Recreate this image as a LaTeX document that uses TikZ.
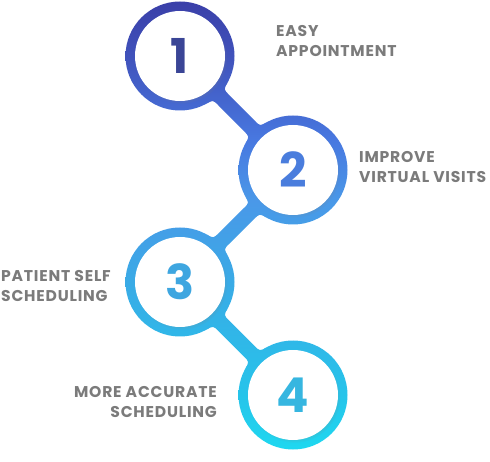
\documentclass[tikz,border=0pt]{standalone}
\usepackage{fontspec}
\setmainfont{Poppins}
\newfontfamily\labelfont{Poppins}[LetterSpace=5]
\usetikzlibrary{calc,shadows}
\definecolor{gradA}{HTML}{3A3FA8}
\definecolor{gradB}{HTML}{4052BB}
\definecolor{gradC}{HTML}{4878E0}
\definecolor{gradD}{HTML}{4A98E8}
\definecolor{gradE}{HTML}{3AAAE6}
\definecolor{gradF}{HTML}{26C4EA}
\definecolor{gradG}{HTML}{1ED8F0}
\definecolor{labelGray}{HTML}{7B7B7B}
\pgfdeclareverticalshading{flowgrad}{100bp}{color(0bp)=(gradG); color(25bp)=(gradG);
  color(26.3bp)=(gradG); color(32.25bp)=(gradF); color(44.7bp)=(gradE); color(53.35bp)=(gradD);
  color(59.85bp)=(gradC); color(68.94bp)=(gradB); color(75bp)=(gradA); color(100bp)=(gradA)}
\tikzset{
  ring/.style={circle, minimum size=109pt, inner sep=0pt},
  disc/.style={circle, fill=white, minimum size=90pt, inner sep=0pt,
    circular drop shadow={shadow xshift=1.5pt, shadow yshift=-2pt, opacity=0.3, shadow scale=1.02}},
  num/.style={font=\fontsize{48}{48}\selectfont\bfseries, inner sep=0pt},
  lbl/.style={font=\labelfont\fontsize{15.6}{20}\selectfont\bfseries, text=labelGray, inner sep=0pt},
  grad/.style={shading=flowgrad},
}

\begin{document}
\begin{tikzpicture}[x=1pt,y=-1pt]
\useasboundingbox (0,0) rectangle (490,462);

%Shape: Circle anchors
\node[ring] (s1) at (180,56) {};
\node[ring] (s2) at (293,170) {};
\node[ring] (s3) at (180,282) {};
\node[ring] (s4) at (293,395) {};

%Shape: bands between the circles
\foreach \a/\b in {s1/s2,s2/s3,s3/s4}{
  \begin{scope}
    \clip ($(\a.center)!54.5pt!15.7:(\b.center)$) .. controls ($(\a.center)!55pt!7.8:(\b.center)$) .. ($(\a.center)!62.5pt!6.9:(\b.center)$)
      -- ($(\b.center)!62.5pt!-6.9:(\a.center)$) .. controls ($(\b.center)!55pt!-7.8:(\a.center)$) .. ($(\b.center)!54.5pt!-15.7:(\a.center)$)
      -- ($(\b.center)!54.5pt!15.7:(\a.center)$) .. controls ($(\b.center)!55pt!7.8:(\a.center)$) .. ($(\b.center)!62.5pt!6.9:(\a.center)$)
      -- ($(\a.center)!62.5pt!-6.9:(\b.center)$) .. controls ($(\a.center)!55pt!-7.8:(\b.center)$) .. ($(\a.center)!54.5pt!-15.7:(\b.center)$)
      -- cycle;
    \shade[grad] (0,0) rectangle (490,462);
  \end{scope}
}
%Shape: rings
\foreach \s in {s1,s2,s3,s4}{
  \begin{scope}
    \clip (\s.center) circle (54.5);
    \shade[grad] (0,0) rectangle (490,462);
  \end{scope}
}

%Shape: white discs
\node[disc] (d1) at (s1) {};
\node[disc] (d2) at (s2) {};
\node[disc] (d3) at (s3) {};
\node[disc] (d4) at (s4) {};

% Text Node
\node[num, text={rgb,255:red,58;green,69;blue,150}] (n1) at (d1) {1};
\node[num, text={rgb,255:red,74;green,125;blue,221}] (n2) at (d2) {2};
\node[num, text={rgb,255:red,62;green,166;blue,224}] (n3) at (d3) {3};
\node[num, text={rgb,255:red,54;green,182;blue,224}] (n4) at (d4) {4};

% Text Node
\node[lbl, anchor=base west, align=left] (t1) at (276,57) {EASY\\APPOINTMENT};
% Text Node
\node[lbl, anchor=base west, align=left] (t2) at (359,183) {IMPROVE\\VIRTUAL VISITS};
% Text Node
\node[lbl, anchor=base west, align=left] (t3) at (1,301.5) {PATIENT SELF\\SCHEDULING};
% Text Node
\node[lbl, anchor=base east, align=right] (t4) at (217,417) {MORE ACCURATE\\SCHEDULING};

\end{tikzpicture}
\end{document}
